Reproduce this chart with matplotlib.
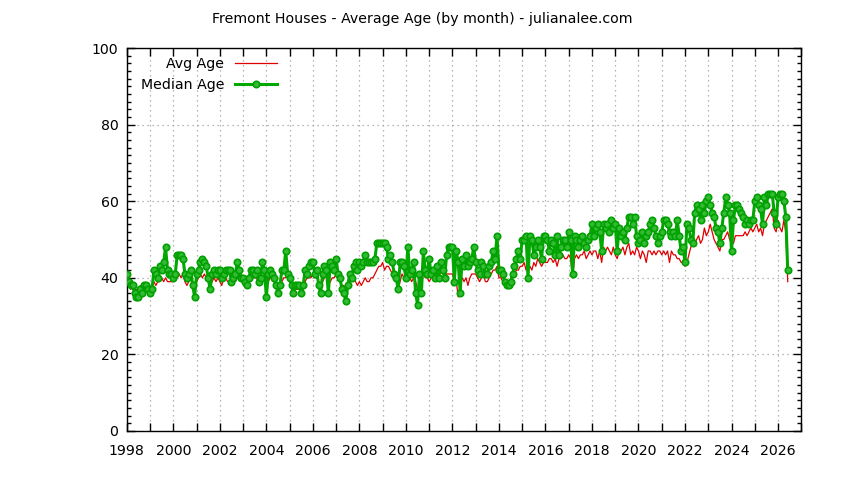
import numpy as np
import matplotlib
matplotlib.use("Agg")
import matplotlib.pyplot as plt
from matplotlib.ticker import MultipleLocator

start_year = 1998
title = "Fremont Houses - Average Age (by month) - julianalee.com"
labels = ["Avg Age", "Median Age"]

# monthly values, Jan 1998 .. Jun 2026
median_age = [
    41, 39, 38, 38, 36, 35, 35, 37, 36, 38, 38, 37,   # 1998
    36, 37, 42, 41, 40, 43, 42, 44, 48, 42, 41, 41,   # 1999
    40, 41, 46, 46, 46, 45, 41, 40, 41, 42, 38, 35,   # 2000
    41, 42, 44, 45, 44, 43, 40, 37, 41, 42, 41, 42,   # 2001
    42, 40, 41, 42, 42, 42, 39, 40, 41, 44, 42, 40,   # 2002
    40, 39, 38, 40, 42, 42, 41, 42, 39, 40, 44, 42,   # 2003
    35, 41, 42, 41, 40, 38, 36, 38, 42, 42, 47, 41,   # 2004
    40, 38, 36, 38, 38, 38, 36, 38, 42, 41, 43, 44,   # 2005
    44, 41, 42, 38, 36, 41, 43, 42, 36, 44, 43, 42,   # 2006
    45, 41, 40, 37, 36, 34, 38, 41, 40, 43, 44, 42,   # 2007
    44, 43, 44, 46, 44, 44, 44, 44, 45, 49, 49, 49,   # 2008
    49, 49, 48, 45, 46, 44, 41, 40, 37, 44, 44, 43,   # 2009
    40, 48, 41, 42, 44, 36, 33, 41, 36, 47, 42, 41,   # 2010
    45, 41, 42, 40, 43, 40, 44, 42, 40, 46, 48, 48,   # 2011
    48, 39, 47, 44, 36, 45, 43, 46, 43, 44, 45, 48,   # 2012
    44, 42, 41, 44, 43, 41, 41, 43, 44, 47, 45, 51,   # 2013
    42, 42, 41, 39, 38, 38, 39, 41, 43, 45, 47, 45,   # 2014
    50, 50, 51, 40, 51, 50, 46, 48, 50, 48, 45, 51,   # 2015
    51, 50, 47, 50, 49, 46, 51, 46, 48, 50, 50, 48,   # 2016
    52, 50, 41, 51, 50, 48, 50, 51, 49, 48, 50, 51,   # 2017
    54, 51, 53, 54, 52, 47, 54, 53, 54, 52, 55, 53,   # 2018
    54, 47, 53, 51, 52, 50, 53, 56, 56, 54, 56, 51,   # 2019
    49, 50, 52, 49, 51, 52, 54, 55, 53, 51, 49, 51,   # 2020
    52, 55, 55, 54, 52, 51, 52, 51, 55, 51, 47, 48,   # 2021
    44, 54, 53, 50, 49, 57, 59, 58, 55, 59, 57, 60,   # 2022
    61, 59, 57, 56, 53, 52, 49, 53, 57, 61, 59, 57,   # 2023
    47, 55, 59, 59, 58, 57, 56, 54, 55, 54, 55, 55,   # 2024
    60, 61, 59, 58, 54, 61, 59, 62, 62, 62, 57, 54,   # 2025
    61, 62, 62, 60, 56, 42,                           # 2026
]

avg_age = [
    40, 38, 37, 38, 37, 37, 36, 38, 37, 38, 38, 38,   # 1998
    37, 38, 39, 38, 39, 39, 40, 39, 40, 39, 39, 39,   # 1999
    39, 40, 40, 41, 40, 41, 39, 38, 39, 40, 38, 37,   # 2000
    39, 40, 41, 40, 41, 40, 39, 38, 39, 40, 39, 40,   # 2001
    39, 38, 40, 40, 39, 39, 39, 39, 39, 40, 40, 39,   # 2002
    39, 39, 39, 39, 40, 40, 40, 40, 38, 39, 40, 40,   # 2003
    37, 39, 40, 40, 39, 38, 37, 38, 39, 40, 40, 41,   # 2004
    39, 37, 37, 37, 37, 37, 37, 37, 39, 40, 40, 40,   # 2005
    41, 40, 40, 39, 38, 39, 40, 41, 38, 39, 40, 40,   # 2006
    41, 40, 39, 38, 38, 37, 38, 39, 39, 40, 39, 38,   # 2007
    39, 38, 39, 40, 39, 39, 40, 40, 41, 42, 43, 43,   # 2008
    44, 42, 43, 43, 42, 41, 40, 40, 37, 39, 41, 40,   # 2009
    40, 41, 40, 39, 40, 39, 37, 38, 39, 41, 40, 40,   # 2010
    39, 40, 41, 40, 40, 41, 40, 40, 39, 41, 41, 41,   # 2011
    41, 39, 39, 35, 38, 40, 39, 40, 38, 40, 41, 41,   # 2012
    41, 40, 39, 40, 41, 39, 39, 40, 41, 42, 42, 43,   # 2013
    40, 40, 39, 38, 38, 38, 39, 40, 41, 42, 42, 43,   # 2014
    43, 44, 42, 42, 43, 42, 44, 43, 45, 44, 43, 44,   # 2015
    44, 44, 45, 45, 44, 45, 43, 45, 45, 46, 45, 45,   # 2016
    46, 45, 40, 45, 46, 45, 46, 46, 47, 45, 46, 47,   # 2017
    46, 47, 47, 45, 47, 44, 48, 47, 48, 47, 46, 48,   # 2018
    46, 45, 47, 47, 48, 46, 48, 49, 46, 47, 46, 48,   # 2019
    47, 45, 47, 46, 44, 47, 47, 46, 47, 46, 47, 47,   # 2020
    46, 47, 46, 47, 44, 47, 46, 46, 45, 45, 44, 44,   # 2021
    43, 44, 46, 48, 49, 49, 50, 51, 49, 50, 53, 51,   # 2022
    52, 54, 52, 50, 49, 48, 47, 50, 50, 51, 52, 50,   # 2023
    49, 49, 51, 51, 51, 51, 51, 52, 51, 52, 53, 52,   # 2024
    53, 54, 52, 53, 51, 54, 55, 56, 57, 58, 53, 52,   # 2025
    55, 53, 52, 55, 52, 39,                           # 2026
]

months = np.arange(len(median_age))
x = start_year + months / 12.0

plt.rcParams['font.family'] = ['DejaVu Sans']
fs = 10.2
fig = plt.figure(figsize=(8.44, 4.8), dpi=100)
ax = fig.add_axes([126.8/844, 1-431/480, (801.3-126.8)/844, (431-48)/480])

ax.plot(x, avg_age, color='#e00000', lw=0.9, label=labels[0], zorder=3)
ax.plot(x, median_age, color='#00a800', lw=2.2, marker='o', ms=4.6,
        mfc='#33bb33', mec='#00a000', mew=1.2, label=labels[1], zorder=4)

ax.set_xlim(1998, 2027)
ax.set_ylim(0, 100)
ax.xaxis.set_major_locator(MultipleLocator(2))
ax.xaxis.set_minor_locator(MultipleLocator(1))
ax.yaxis.set_major_locator(MultipleLocator(20))
ax.yaxis.set_minor_locator(MultipleLocator(2))

ax.tick_params(which='both', direction='in', top=True, right=True, labelsize=fs,
               color='black', width=1)
ax.tick_params(axis='x', which='major', length=6, pad=9.5)
ax.tick_params(axis='x', which='minor', length=6)
ax.tick_params(axis='y', which='major', length=6, pad=6)
ax.tick_params(axis='y', which='minor', length=3)

ax.grid(which='both', axis='x', color='#a0a0a0', linestyle=(0, (1, 3)), lw=0.9)
ax.grid(which='major', axis='y', color='#a0a0a0', linestyle=(0, (1, 3)), lw=0.9)
ax.set_axisbelow(True)
for s in ax.spines.values():
    s.set_linewidth(1.0)

fig.text(0.5, 1-19/480, title, ha='center', va='center', fontsize=fs)

leg = ax.legend(loc='upper left', bbox_to_anchor=(0.021, 0.976), frameon=False,
                markerfirst=False, handlelength=2.95, handletextpad=0.75,
                labelspacing=0.5, borderpad=0, borderaxespad=0, numpoints=1,
                fontsize=fs)

fig.savefig('out.png', dpi=100)
